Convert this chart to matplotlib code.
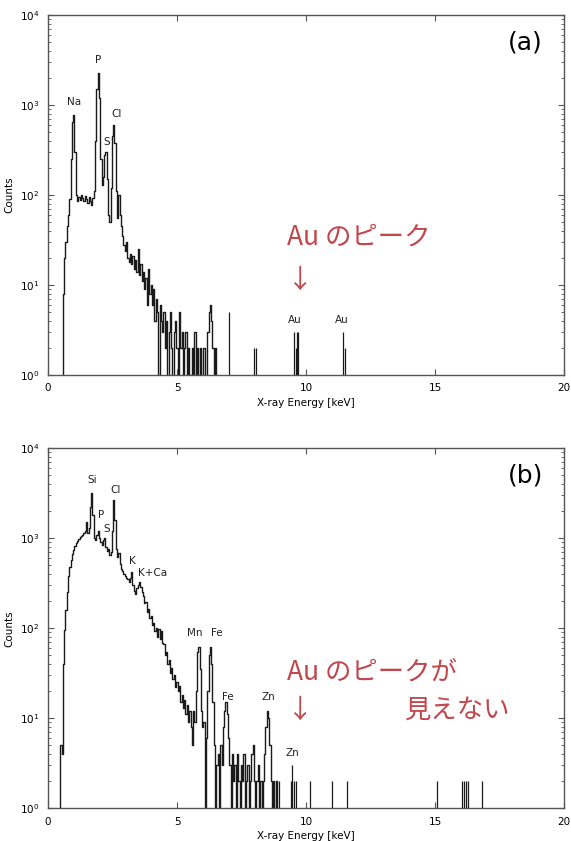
import matplotlib.pyplot as plt
import numpy as np

plt.rcParams['font.family'] = ['DejaVu Sans']

# channel grid (keV)
e0_a = 0.50
e0_b = 0.45
de = 0.05

# panel (a): dense part of the spectrum, one value per channel
counts_a = [
    0, 0, 8, 20, 30, 45, 60, 90, 250, 650,
    780, 300, 100, 85, 95, 88, 100, 92, 85, 98,
    90, 82, 95, 86, 78, 92, 110, 400, 1500, 2300,
    1200, 250, 130, 160, 280, 300, 150, 60, 50, 120,
    450, 600, 380, 110, 55, 100, 60, 45, 35, 28,
    24, 30, 20, 18, 22, 17, 21, 15, 19, 14,
    25, 13, 17, 11, 14, 9, 12, 6, 15, 8,
    10, 6, 9, 4, 7, 5, 0, 6, 4, 3,
    5, 2, 4, 0, 3, 5, 2, 0, 3, 4,
    2, 0, 5, 2, 3, 0, 2, 3, 0, 2,
    1, 0, 2, 0, 3, 0, 2, 0, 2, 0,
    0, 2, 0, 0, 3, 5, 6, 4, 2, 0,
    2, 0,
]
# panel (a): isolated single-channel lines
lines_a_e = [7.0, 8.0, 8.05, 9.55, 9.6, 9.65, 9.7, 11.45, 11.5]
lines_a_c = [5, 2, 2, 3, 2, 3, 3, 3, 2]

# panel (b)
counts_b = [
    0, 5, 4, 40, 95, 160, 250, 380, 480, 580,
    660, 740, 820, 880, 940, 980, 1020, 1060, 1100, 1150,
    1200, 1500, 1150, 1300, 2200, 3200, 1800, 1000, 950, 1100,
    1200, 1000, 900, 850, 950, 1000, 800, 720, 760, 650,
    700, 1200, 2650, 1600, 750, 620, 680, 520, 460, 430,
    400, 380, 360, 350, 330, 360, 420, 300, 260, 240,
    280, 300, 330, 290, 250, 230, 190, 195, 150, 165,
    130, 138, 108, 115, 92, 100, 80, 98, 75, 92,
    68, 66, 50, 54, 40, 44, 32, 36, 27, 30,
    22, 25, 20, 23, 15, 18, 13, 16, 11, 14,
    9, 12, 8, 5, 12, 9, 20, 55, 62, 35,
    12, 8, 9, 0, 6, 20, 50, 62, 40, 15,
    5, 0, 3, 4, 0, 5, 3, 8, 12, 15,
    11, 6, 3, 0, 4, 2, 3, 0, 4, 2,
    0, 3, 2, 4, 0, 2, 3, 0, 2, 4,
    5, 2, 0, 2, 3, 0, 2, 0, 2, 4,
    8, 12, 10, 5, 2, 0, 2, 0, 2, 0,
]
lines_b_e = [8.95, 9.4, 9.46, 9.55, 9.6, 10.15, 11.0, 11.6,
             15.08, 16.05, 16.12, 16.2, 16.28, 16.8]
lines_b_c = [2, 2, 3, 2, 2, 2, 2, 2, 2, 2, 2, 2, 2, 2]

labels_a = ['Na', 'P', 'S', 'Cl', 'Au', 'Au']
labels_a_x = [1.0, 1.95, 2.26, 2.64, 9.58, 11.4]
labels_a_y = [1080, 3160, 390, 790, 4.1, 4.1]

labels_b = ['Si', 'P', 'S', 'Cl', 'K', 'K+Ca', 'Mn', 'Fe', 'Fe', 'Zn', 'Zn']
labels_b_x = [1.71, 2.06, 2.27, 2.63, 3.27, 4.06, 5.70, 6.56, 6.97, 8.53, 9.46]
labels_b_y = [4400, 1830, 1280, 3470, 560, 406, 89, 89, 17, 17, 4.1]

RED = '#c0474c'
JP = ['Noto Sans CJK JP', 'DejaVu Sans']

fig = plt.figure(figsize=(5.71, 8.41), dpi=100)
ax_a = fig.add_axes([0.084, 0.554, 0.904, 0.428])
ax_b = fig.add_axes([0.084, 0.039, 0.904, 0.428])


def draw(ax, e0, counts, le, lc, labels, lx, ly):
    e = e0 + de * np.arange(len(counts))
    ax.set_yscale('log', nonpositive='clip')
    ax.step(e, counts, where='mid', color='#1a1a1a', lw=1.0)
    ax.vlines(le, 1, lc, color='#1a1a1a', lw=0.9)
    for t, x, y in zip(labels, lx, ly):
        ax.text(x, y, t, ha='center', va='center', fontsize=7.5, color='#222')
    ax.set_xlim(0, 20)
    ax.set_ylim(1, 1e4)
    ax.set_xticks([0, 5, 10, 15, 20])
    ax.set_xticklabels(['0', '5', '10', '15', '20'])
    ax.tick_params(which='both', direction='in', top=True, right=True,
                   labelsize=7.5, color='#555', pad=6)
    ax.tick_params(which='major', length=4)
    ax.tick_params(which='minor', length=2)
    ax.minorticks_on()
    ax.xaxis.set_minor_locator(plt.NullLocator())
    ax.set_xlabel('X-ray Energy [keV]', fontsize=7.5, labelpad=3)
    ax.set_ylabel('Counts', fontsize=7.5, labelpad=4)
    for s in ax.spines.values():
        s.set_color('#555')
        s.set_linewidth(1.0)


draw(ax_a, e0_a, counts_a, lines_a_e, lines_a_c, labels_a, labels_a_x, labels_a_y)
draw(ax_b, e0_b, counts_b, lines_b_e, lines_b_c, labels_b, labels_b_x, labels_b_y)

# annotations
ax_a.text(0.925, 0.925, '(a)', transform=ax_a.transAxes, fontsize=18,
          ha='center', va='center', family=['DejaVu Sans Condensed', 'DejaVu Sans'])
ax_b.text(0.925, 0.925, '(b)', transform=ax_b.transAxes, fontsize=18,
          ha='center', va='center', family=['DejaVu Sans Condensed', 'DejaVu Sans'])

fig.text(287 / 571, 1 - 237 / 841, 'Au のピーク', color=RED, fontsize=19,
         ha='left', va='center', family=JP)
fig.text(300 / 571, 1 - 280 / 841, '↓', color=RED, fontsize=19,
         ha='center', va='center', family=JP)
fig.text(287 / 571, 1 - 673 / 841, 'Au のピークが', color=RED, fontsize=19,
         ha='left', va='center', family=JP)
fig.text(300 / 571, 1 - 710 / 841, '↓', color=RED, fontsize=19,
         ha='center', va='center', family=JP)
fig.text(405 / 571, 1 - 710 / 841, '見えない', color=RED, fontsize=19,
         ha='left', va='center', family=JP)

fig.savefig('out.png', dpi=100)
